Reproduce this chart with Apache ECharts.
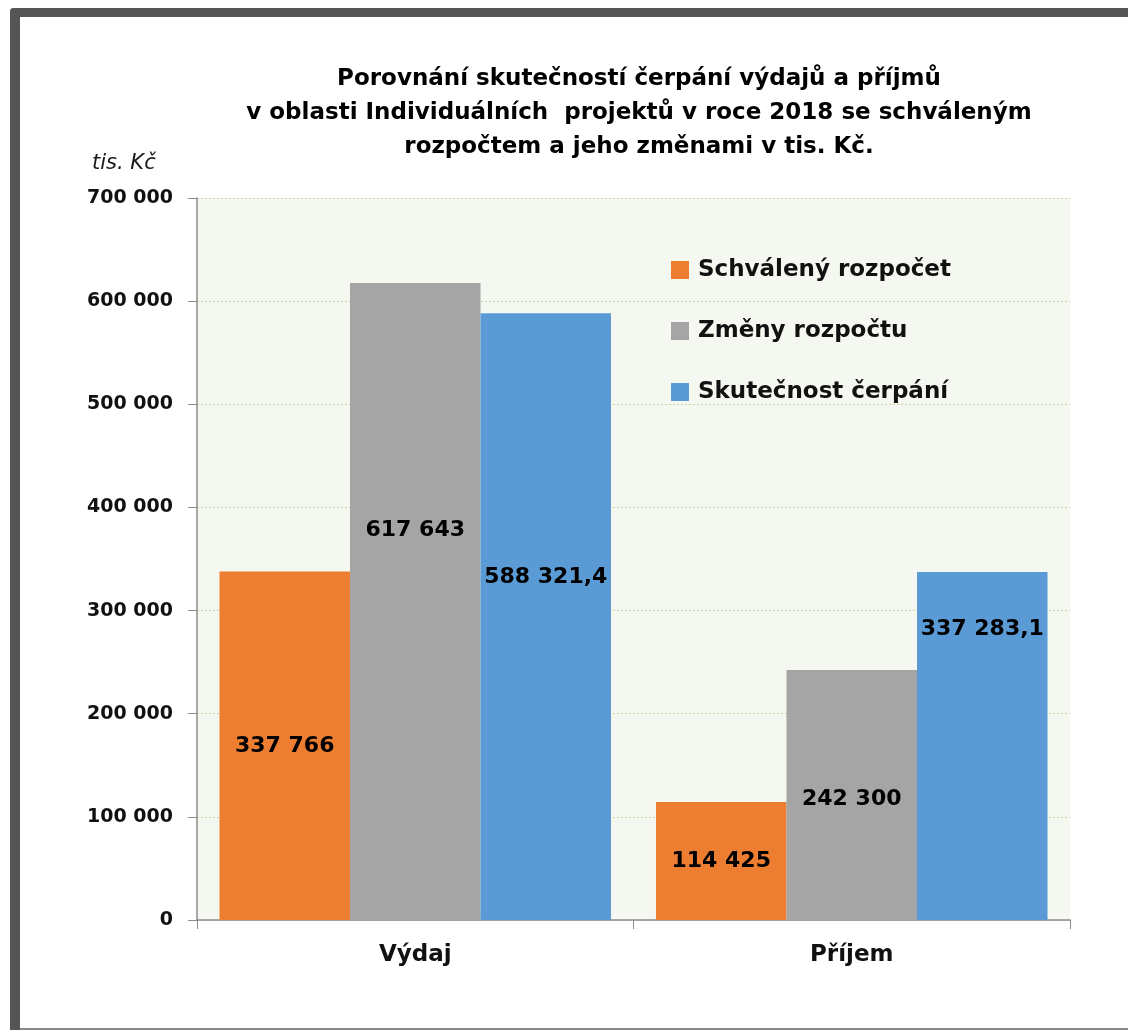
<!DOCTYPE html>
<html>
<head>
<meta charset="utf-8">
<script src="https://cdn.jsdelivr.net/npm/echarts@6/dist/echarts.min.js"></script>
<style>
html,body{margin:0;padding:0;background:#fff;}
#c{width:1128px;height:1030px;}
</style>
</head>
<body>
<div id="c"></div>
<script>
const titleLines = [
  'Porovnání skutečností čerpání výdajů a příjmů',
  'v oblasti Individuálních  projektů v roce 2018 se schváleným',
  'rozpočtem a jeho změnami v tis. Kč.'
];
const unitLabel = 'tis. Kč';
const categories = ['Výdaj', 'Příjem'];
const seriesNames = ['Schválený rozpočet', 'Změny rozpočtu', 'Skutečnost čerpání'];
const schvaleny = [337766, 114425];
const zmeny = [617643, 242300];
const skutecnost = [588321.4, 337283.1];
const yTicks = [0, 100000, 200000, 300000, 400000, 500000, 600000, 700000];

// styling (not data)
const colors = ['#ED7D31', '#A5A5A5', '#5B9BD5'];
const labelOffsets = [
  [[0, 0], [0, 0]],
  [[0, -71], [0, 4]],
  [[0, -39], [0, -117]]
];

function fmt(v) {
  const parts = String(v).split('.');
  const intPart = parts[0].replace(/\B(?=(\d{3})+(?!\d))/g, ' ');
  return parts.length > 1 ? intPart + ',' + parts[1] : intPart;
}

const seriesData = [schvaleny, zmeny, skutecnost];
const font = '"DejaVu Sans", sans-serif';

const chart = echarts.init(document.getElementById('c'), null, {renderer: 'canvas'});
chart.setOption({
  backgroundColor: '#ffffff',
  animation: false,
  title: {
    text: titleLines.join('\n'),
    left: 634,
    top: 57,
    textAlign: 'center',
    textStyle: {fontFamily: font, fontWeight: 'bold', fontSize: 23, lineHeight: 34, color: '#000000'}
  },
  legend: {
    orient: 'vertical',
    left: 671,
    top: 257,
    padding: 0,
    itemWidth: 18,
    itemHeight: 18,
    itemGap: 35,
    icon: 'rect',
    data: seriesNames,
    textStyle: {fontFamily: font, fontWeight: 'bold', fontSize: 23, color: '#111111', padding: [0, 0, 0, 4], lineHeight: 26}
  },
  grid: {left: 197, right: 58, top: 198, bottom: 110, show: true, backgroundColor: '#F5F8F0', borderWidth: 0},
  xAxis: {
    type: 'category',
    data: categories,
    axisLine: {lineStyle: {color: '#8c8c8c', width: 1.5}},
    axisTick: {show: true, length: 9, lineStyle: {color: '#8c8c8c'}},
    axisLabel: {fontFamily: font, fontWeight: 'bold', fontSize: 23, color: '#111111', margin: 24}
  },
  yAxis: {
    type: 'value',
    min: 0,
    max: 700000,
    interval: 100000,
    axisLine: {show: true, lineStyle: {color: '#8c8c8c', width: 1.5}},
    axisTick: {show: true, length: 9, lineStyle: {color: '#8c8c8c'}},
    splitLine: {show: true, lineStyle: {color: '#C9D1A9', type: [2, 2], width: 1}},
    axisLabel: {
      fontFamily: font, fontWeight: 'bold', fontSize: 19, color: '#111111', margin: 24,
      formatter: v => yTicks.includes(v) ? fmt(v) : ''
    }
  },
  graphic: [
    {type: 'rect', shape: {x: 10, y: 8, width: 1118, height: 9, r: [4, 0, 0, 0]}, style: {fill: '#555555'}},
    {type: 'rect', shape: {x: 10, y: 8, width: 10, height: 1022, r: [4, 0, 0, 0]}, style: {fill: '#555555'}},
    {type: 'rect', shape: {x: 20, y: 1028, width: 1108, height: 2}, style: {fill: '#8a8a8a'}},
    {type: 'text', left: 92, top: 153, style: {text: unitLabel, fontFamily: font, fontStyle: 'italic', fontSize: 21, fill: '#1a1a1a'}}
  ],
  series: seriesNames.map((name, i) => ({
    name: name,
    type: 'bar',
    barGap: '0%',
    barCategoryGap: '10.3%',
    itemStyle: {color: colors[i]},
    data: seriesData[i].map((v, j) => ({
      value: v,
      label: {offset: labelOffsets[i][j]}
    })),
    label: {
      show: true,
      position: 'inside',
      fontFamily: font,
      fontWeight: 'bold',
      fontSize: 22,
      color: '#000000',
      formatter: p => fmt(p.value)
    }
  }))
});
</script>
</body>
</html>
